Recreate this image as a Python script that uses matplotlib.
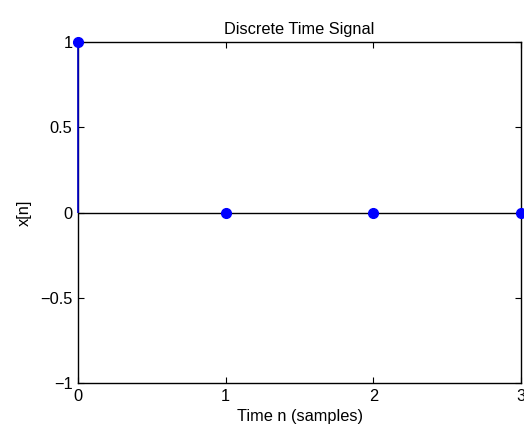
import numpy as np
import matplotlib
matplotlib.use('Agg')
import matplotlib.pyplot as plt

plt.rcParams['font.family'] = ['Liberation Sans', 'DejaVu Sans']

n = [0, 1, 2, 3]
x = [1, 0, 0, 0]
xticks = [0, 1, 2, 3]
yticks = [-1, -0.5, 0, 0.5, 1]
yticklabels = ['\u22121', '\u22120.5', '0', '0.5', '1']

fs = 11.8
fig = plt.figure(figsize=(5.24, 4.28), dpi=100)
ax = fig.add_axes([0.1489, 0.1051, 0.9943 - 0.1489, 0.9019 - 0.1051])

ax.axhline(0, color='black', lw=1, zorder=1)
ax.vlines(n, 0, x, color='#0000cc', lw=1.2, clip_on=False, zorder=4)
ax.plot(n, x, 'o', color='blue', markersize=7, clip_on=False, zorder=5)

ax.set_xlim(0, 3)
ax.set_ylim(-1, 1)
ax.set_xticks(xticks)
ax.set_yticks(yticks)
ax.set_yticklabels(yticklabels)
ax.tick_params(direction='in', length=4, labelsize=fs, top=True, right=True, pad=4)
for s in ax.spines.values():
    s.set_linewidth(1)

ax.set_title('Discrete Time Signal', fontsize=fs, pad=6)
ax.set_xlabel('Time n (samples)', fontsize=fs, labelpad=4)
ax.set_ylabel('x[n]', fontsize=fs, labelpad=6)

fig.savefig('out.png', dpi=100)
